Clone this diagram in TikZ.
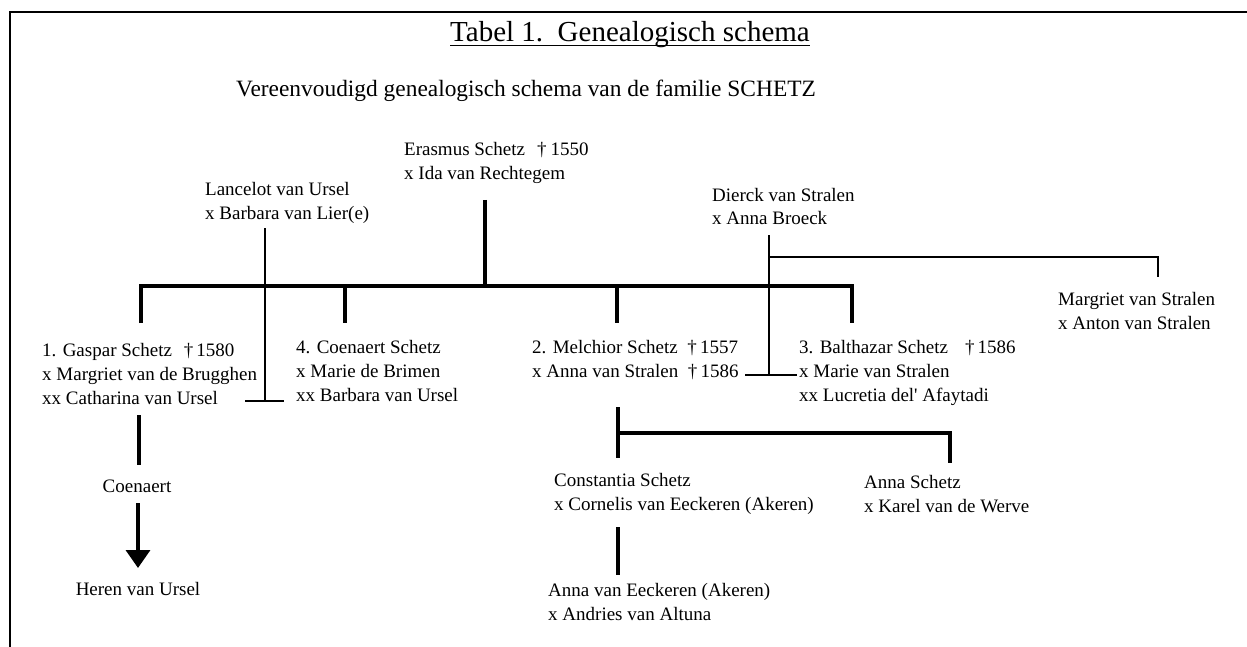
\documentclass[tikz,border=0pt]{standalone}
\usepackage{fontspec}
\setmainfont{Liberation Serif}
\usetikzlibrary{arrows.meta}
\begin{document}
\begin{tikzpicture}[x=1pt,y=-1pt,
  person/.style={anchor=base west, inner sep=0pt, align=left, font=\fontsize{19}{24}\selectfont},
  single/.style={anchor=base, inner sep=0pt, font=\fontsize{19}{24}\selectfont},
  heavy/.style={line width=3.5pt, line join=miter},
  light/.style={line width=1.2pt},
  frameline/.style={line width=2pt, line join=miter}]
\useasboundingbox (0,0) rectangle (1247,647);
\draw[frameline] (10,647) -- (10,12) -- (1247,12);

% titles
\node[anchor=base, inner sep=0pt, font=\fontsize{29}{29}\selectfont] (title) at (630,42) {Tabel 1.\ \ Genealogisch schema};
\draw[line width=1.5pt] ([yshift=-3.5pt]title.base west) -- ([yshift=-3.5pt]title.base east);
\node[anchor=base west, inner sep=0pt, font=\fontsize{23.4}{24}\selectfont] (sub) at (236,97) {Vereenvoudigd genealogisch schema van de familie SCHETZ};

% persons (anchor = baseline of the last line)
\node[person] (erasmus) at (404,180) {Erasmus Schetz\hspace{12pt}†\hspace{4pt}1550\\x Ida van Rechtegem};
\node[person] (lancelot) at (205,219) {Lancelot van Ursel\\x Barbara van Lier(e)};
\node[person] (dierck) at (712,225) {Dierck van Stralen\\x Anna Broeck};
\node[person] (margriet) at (1058,329) {Margriet van Stralen\\x Anton van Stralen};
\node[person] (gaspar) at (42,404) {1. Gaspar Schetz\hspace{12pt}†\hspace{3pt}1580\\x Margriet van de Brugghen\\xx Catharina van Ursel};
\node[person] (coen) at (296,401) {4. Coenaert Schetz\\x Marie de Brimen\\xx Barbara van Ursel};
\node[person] (melchior) at (532,377) {2. Melchior Schetz\ \ †\,1557\\x Anna van Stralen\ \ †\,1586};
\node[person] (balth) at (799,401) {3. Balthazar Schetz\hspace{17pt}†\,1586\\x Marie van Stralen\\xx Lucretia del\textquotesingle\ Afaytadi};
\node[person] (constantia) at (554,510) {Constantia Schetz\\x Cornelis van Eeckeren (Akeren)};
\node[person] (annas) at (864,512) {Anna Schetz\\x Karel van de Werve};
\node[person] (annae) at (548,620) {Anna van Eeckeren (Akeren)\\x Andries van Altuna};
\node[single] (coenaert) at (137,492) {Coenaert};
\node[single] (heren) at (138,595) {Heren van Ursel};

% junction coordinates
\coordinate (erasFoot) at (485,200);
\coordinate (erasBar) at (485,286);
\coordinate (barL) at (141,286);
\coordinate (barR) at (852,286);
\coordinate (gasTop) at (141,323);
\coordinate (coenBar) at (345,286);
\coordinate (coenTop) at (345,323);
\coordinate (melBar) at (617,286);
\coordinate (melTop) at (617,323);
\coordinate (balTop) at (852,323);

\coordinate (lanFoot) at (265,228);
\coordinate (lanLow) at (265,401);
\coordinate (gasMarr) at (245,401);
\coordinate (coenMarr) at (284,401);

\coordinate (dieFoot) at (769,235);
\coordinate (dieSplit) at (769,257);
\coordinate (dieLow) at (769,375);
\coordinate (melMarr) at (745,375);
\coordinate (balMarr) at (797,375);
\coordinate (marCorner) at (1158,257);
\coordinate (marTop) at (1158,277);

\coordinate (gasFoot) at (139,415);
\coordinate (coenHead) at (139,465);
\coordinate (coenFoot) at (138,503);
\coordinate (herenTop) at (138,568);

\coordinate (melFoot) at (618,407);
\coordinate (melSplit) at (618,433);
\coordinate (conTop) at (618,458);
\coordinate (annaCorner) at (950,433);
\coordinate (annaTop) at (950,463);
\coordinate (conFoot) at (618,527);
\coordinate (aeTop) at (618,575);

% heavy connectors
\draw[heavy] (erasFoot) -- (erasBar);
\draw[heavy] (gasTop) -- (barL) -- (barR) -- (balTop);
\draw[heavy] (coenBar) -- (coenTop);
\draw[heavy] (melBar) -- (melTop);
\draw[heavy] (gasFoot) -- (coenHead);
\draw[heavy, -{Triangle[width=24pt,length=18pt]}] (coenFoot) -- (herenTop);
\draw[heavy] (melFoot) -- (conTop);
\draw[heavy] (melSplit) -- (annaCorner) -- (annaTop);
\draw[heavy] (conFoot) -- (aeTop);

% light connectors
\draw[light] (lanFoot) -- (lanLow);
\draw[light] (gasMarr) -- (coenMarr);
\draw[light] (dieFoot) -- (dieLow);
\draw[light] (melMarr) -- (balMarr);
\draw[light, line join=miter] (dieSplit) -- (marCorner) -- (marTop);
\end{tikzpicture}
\end{document}
